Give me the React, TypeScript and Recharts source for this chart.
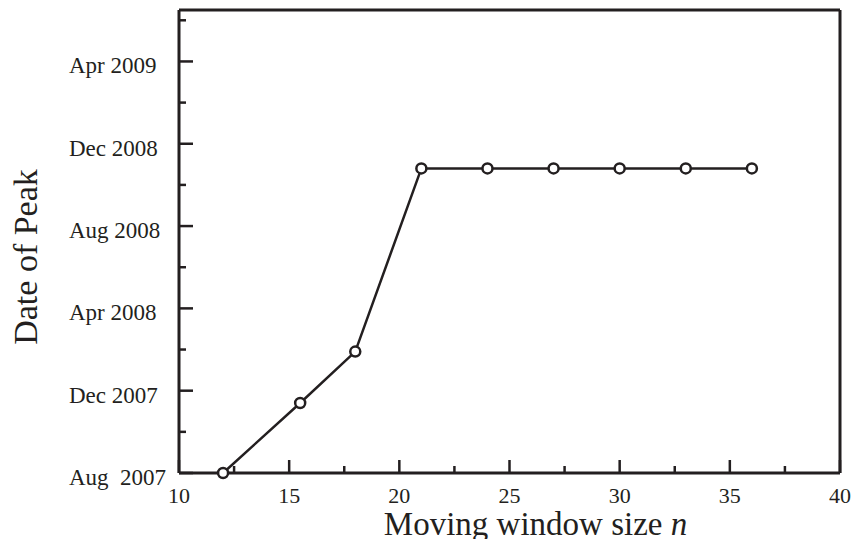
import { LineChart, Line, XAxis, YAxis, ReferenceLine, Label } from 'recharts';

// moving window size n and the date of the peak, in months after Aug 2007
const windowSizes = [12, 15.5, 18, 21, 24, 27, 30, 33, 36];
const peakMonths = [0, 3.4, 5.9, 14.8, 14.8, 14.8, 14.8, 14.8, 14.8];

const xTicks = [10, 12.5, 15, 17.5, 20, 22.5, 25, 27.5, 30, 32.5, 35, 37.5, 40];
const yTicks = [0, 2, 4, 6, 8, 10, 12, 14, 16, 18, 20, 22];
const yLabelMonths = [0, 4, 8, 12, 16, 20];
const yLabelTexts = ['Aug  2007', 'Dec 2007', 'Apr 2008', 'Aug 2008', 'Dec 2008', 'Apr 2009'];

const INK = '#231f20';
const FONT = '"Liberation Serif", "Times New Roman", serif';

const data = windowSizes.map((n, i) => ({ n, month: peakMonths[i] }));

const XTick = ({ x, y, payload }: any) => {
  const major = payload.value % 5 === 0;
  return (
    <g>
      <line x1={x} y1={y} x2={x} y2={y - (major ? 13 : 7)} stroke={INK} strokeWidth={2.5} />
      {major && (
        <text x={x} y={y + 29.5} textAnchor="middle" fontSize={22} fontFamily={FONT} fill={INK}>
          {payload.value}
        </text>
      )}
    </g>
  );
};

const YTick = ({ x, y, payload }: any) => {
  const idx = yLabelMonths.indexOf(payload.value);
  return (
    <g>
      <line x1={x} y1={y} x2={x + (idx >= 0 ? 14 : 7)} y2={y} stroke={INK} strokeWidth={2.5} />
      {idx >= 0 && (
        <text
          x={69}
          y={y + 12}
          textAnchor="start"
          fontSize={23}
          fontFamily={FONT}
          fill={INK}
          style={{ whiteSpace: 'pre' }}
        >
          {yLabelTexts[idx]}
        </text>
      )}
    </g>
  );
};

const App = () => {
  return (
    <div style={{ position: 'absolute', left: 0, top: 0, background: '#fff' }}>
      <LineChart width={851} height={539} data={data} margin={{ top: 10, right: 11, bottom: 0, left: 0 }}>
        <XAxis
          dataKey="n"
          type="number"
          domain={[10, 40]}
          ticks={xTicks}
          interval={0}
          tickLine={false}
          tickSize={0}
          tickMargin={0}
          tick={<XTick />}
          height={66}
          axisLine={{ stroke: INK, strokeWidth: 3 }}
        >
          <Label
            content={({ viewBox }: any) => (
              <text
                x={viewBox.x + viewBox.width / 2 + 26}
                y={535}
                textAnchor="middle"
                fontSize={33}
                fontFamily={FONT}
                fill={INK}
              >
                Moving window size <tspan fontStyle="italic">n</tspan>
              </text>
            )}
          />
        </XAxis>
        <YAxis
          type="number"
          domain={[0, 22.5]}
          ticks={yTicks}
          interval={0}
          tickLine={false}
          tickSize={0}
          tickMargin={0}
          tick={<YTick />}
          width={179}
          axisLine={{ stroke: INK, strokeWidth: 3 }}
        >
          <Label
            content={() => (
              <text
                x={37}
                y={257}
                transform="rotate(-90, 37, 257)"
                textAnchor="middle"
                fontSize={34}
                fontFamily={FONT}
                fill={INK}
              >
                Date of Peak
              </text>
            )}
          />
        </YAxis>
        <ReferenceLine y={22.5} stroke={INK} strokeWidth={3} />
        <ReferenceLine x={40} stroke={INK} strokeWidth={3} />
        <Line
          dataKey="month"
          stroke={INK}
          strokeWidth={2.5}
          dot={{ r: 5, stroke: INK, strokeWidth: 2.5, fill: '#fff' }}
          isAnimationActive={false}
        />
      </LineChart>
    </div>
  );
};

export default App;
